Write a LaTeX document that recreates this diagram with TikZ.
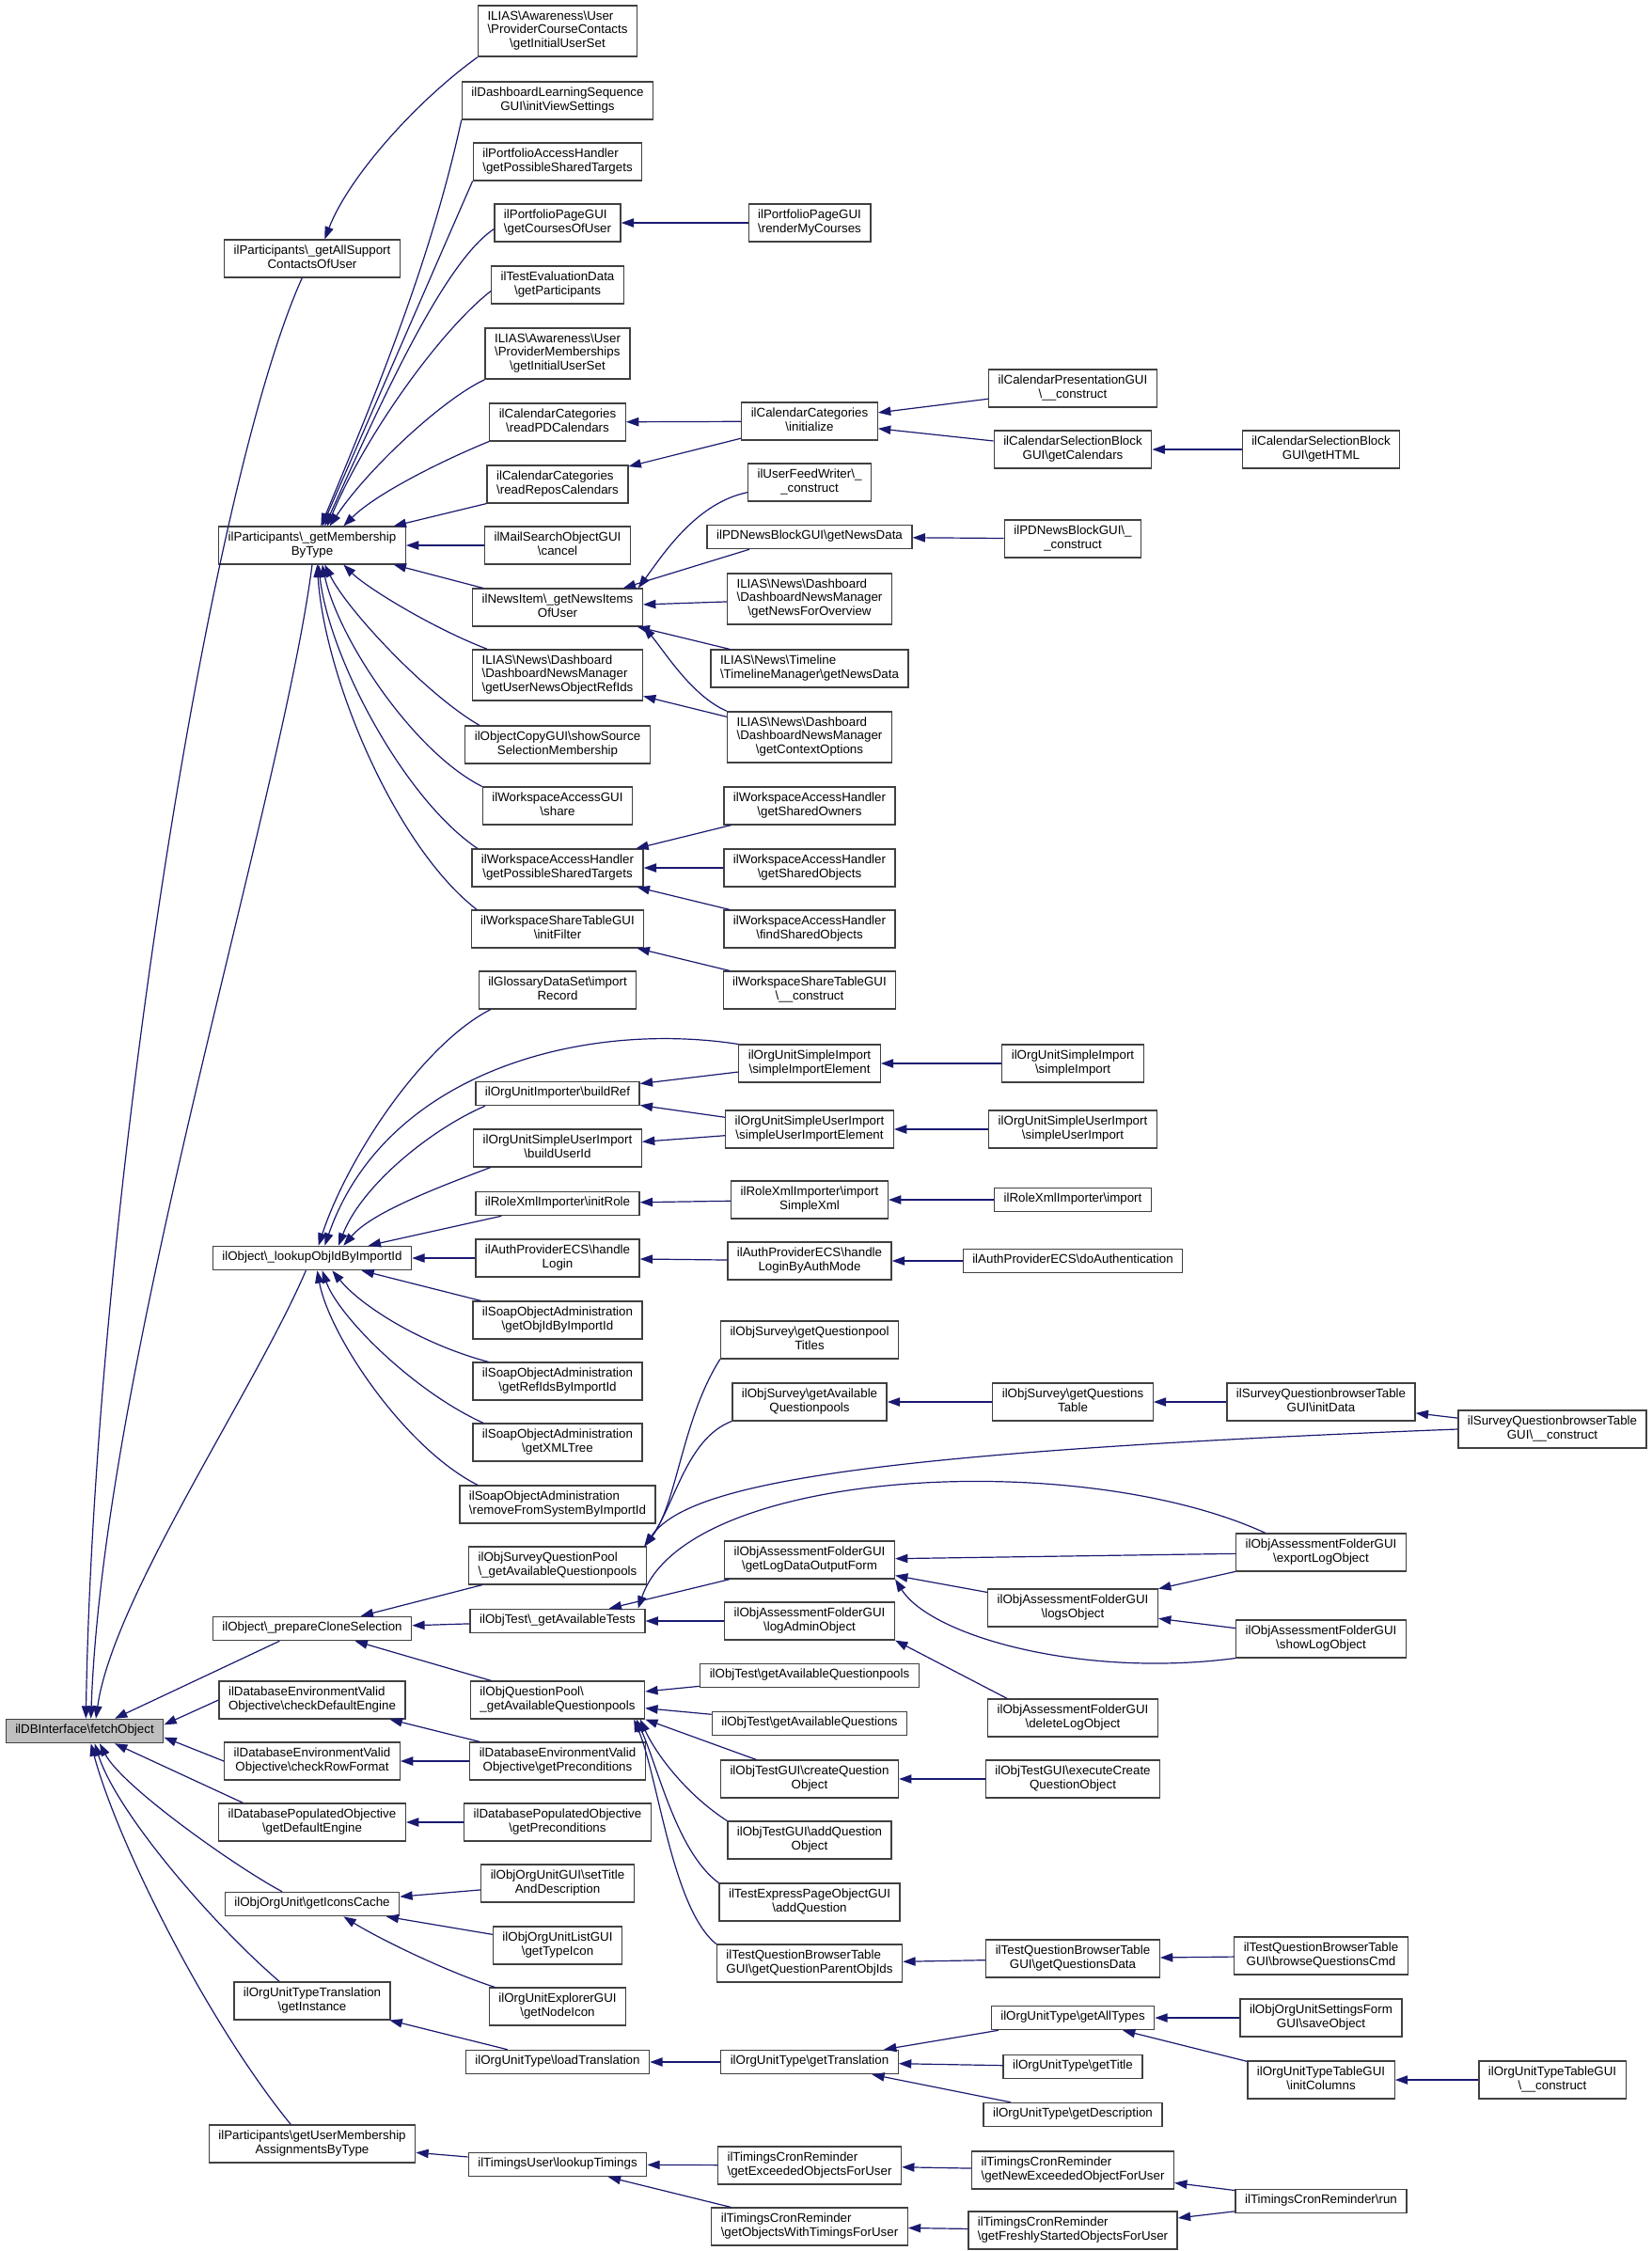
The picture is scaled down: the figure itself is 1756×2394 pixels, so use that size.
\documentclass[tikz,border=0pt]{standalone}
\usepackage{fontspec}
\setmainfont{Liberation Sans}
\usetikzlibrary{arrows.meta}
\definecolor{edgeblue}{HTML}{191970}
\definecolor{rootgray}{HTML}{BFBFBF}
\newcommand\bs{\textbackslash}
\newcommand\fnlines[2]{\begin{tabular}{@{}l@{}}#1\\\multicolumn{1}{@{}c@{}}{#2}\end{tabular}}
\newcommand\fnline[1]{\begin{tabular}{@{}c@{}}#1\end{tabular}}
\tikzset{
  fn/.style={draw=black!75, fill=white, line width=1pt, inner xsep=7.5pt, inner ysep=4pt,
    font=\fontsize{10}{10.9}\selectfont},
  rootfn/.style={fn, fill=rootgray},
  call/.style={draw=edgeblue, line width=0.9pt, -{Triangle[length=10pt,width=7pt]}}
}

\begin{document}
\begin{tikzpicture}[x=0.75pt,y=-0.75pt]
  \useasboundingbox (0,0) rectangle (1756,2394);

  \node[rootfn] (dbfetch) at (90,1841) {\fnline{ilDBInterface\bs fetchObject}};

  \node[fn] (allsupport) at (332,275) {\fnlines{ilParticipants\bs\_getAllSupport}{ContactsOfUser}};
  \node[fn] (membership) at (332,580) {\fnlines{ilParticipants\bs\_getMembership}{ByType}};
  \node[fn] (lookupid) at (332,1338) {\fnline{ilObject\bs\_lookupObjIdByImportId}};
  \node[fn] (prepclone) at (332,1732) {\fnline{ilObject\bs\_prepareCloneSelection}};
  \node[fn] (chkengine) at (332,1808) {\fnlines{ilDatabaseEnvironmentValid}{Objective\bs checkDefaultEngine}};
  \node[fn] (chkrow) at (332,1873) {\fnlines{ilDatabaseEnvironmentValid}{Objective\bs checkRowFormat}};
  \node[fn] (popengine) at (332,1938) {\fnlines{ilDatabasePopulatedObjective}{\bs getDefaultEngine}};
  \node[fn] (iconscache) at (332,2025) {\fnline{ilObjOrgUnit\bs getIconsCache}};
  \node[fn] (typetrans) at (332,2128) {\fnlines{ilOrgUnitTypeTranslation}{\bs getInstance}};
  \node[fn] (usermember) at (332,2280) {\fnlines{ilParticipants\bs getUserMembership}{AssignmentsByType}};

  \node[fn] (awcourse) at (593,33) {\fnlines{ILIAS\bs Awareness\bs User\\\bs ProviderCourseContacts}{\bs getInitialUserSet}};
  \node[fn] (dashlearn) at (593,107) {\fnlines{ilDashboardLearningSequence}{GUI\bs initViewSettings}};
  \node[fn] (portaccess) at (593,172) {\fnlines{ilPortfolioAccessHandler}{\bs getPossibleSharedTargets}};
  \node[fn] (portcourses) at (593,237) {\fnlines{ilPortfolioPageGUI}{\bs getCoursesOfUser}};
  \node[fn] (testeval) at (593,303) {\fnlines{ilTestEvaluationData}{\bs getParticipants}};
  \node[fn] (awmember) at (593,376) {\fnlines{ILIAS\bs Awareness\bs User\\\bs ProviderMemberships}{\bs getInitialUserSet}};
  \node[fn] (readpd) at (593,449) {\fnlines{ilCalendarCategories}{\bs readPDCalendars}};
  \node[fn] (readrepos) at (593,515) {\fnlines{ilCalendarCategories}{\bs readReposCalendars}};
  \node[fn] (mailcancel) at (593,580) {\fnlines{ilMailSearchObjectGUI}{\bs cancel}};
  \node[fn] (newsitems) at (593,646) {\fnlines{ilNewsItem\bs\_getNewsItems}{OfUser}};
  \node[fn] (newsrefids) at (593,718) {\fnlines{ILIAS\bs News\bs Dashboard\\\bs DashboardNewsManager}{\bs getUserNewsObjectRefIds}};
  \node[fn] (copygui) at (593,792) {\fnlines{ilObjectCopyGUI\bs showSource}{SelectionMembership}};
  \node[fn] (wsshare) at (593,857) {\fnlines{ilWorkspaceAccessGUI}{\bs share}};
  \node[fn] (wstargets) at (593,923) {\fnlines{ilWorkspaceAccessHandler}{\bs getPossibleSharedTargets}};
  \node[fn] (wsfilter) at (593,988) {\fnlines{ilWorkspaceShareTableGUI}{\bs initFilter}};
  \node[fn] (glossary) at (593,1053) {\fnlines{ilGlossaryDataSet\bs import}{Record}};
  \node[fn] (buildref) at (593,1163) {\fnline{ilOrgUnitImporter\bs buildRef}};
  \node[fn] (builduser) at (593,1221) {\fnlines{ilOrgUnitSimpleUserImport}{\bs buildUserId}};
  \node[fn] (initrole) at (593,1280) {\fnline{ilRoleXmlImporter\bs initRole}};
  \node[fn] (handlelogin) at (593,1338) {\fnlines{ilAuthProviderECS\bs handle}{Login}};
  \node[fn] (soapobjid) at (593,1404) {\fnlines{ilSoapObjectAdministration}{\bs getObjIdByImportId}};
  \node[fn] (soaprefids) at (593,1469) {\fnlines{ilSoapObjectAdministration}{\bs getRefIdsByImportId}};
  \node[fn] (soapxml) at (593,1534) {\fnlines{ilSoapObjectAdministration}{\bs getXMLTree}};
  \node[fn] (soapremove) at (593,1600) {\fnlines{ilSoapObjectAdministration}{\bs removeFromSystemByImportId}};
  \node[fn] (surveypools) at (593,1665) {\fnlines{ilObjSurveyQuestionPool}{\bs\_getAvailableQuestionpools}};
  \node[fn] (availtests) at (593,1724) {\fnline{ilObjTest\bs\_getAvailableTests}};
  \node[fn] (qpools) at (593,1808) {\fnlines{ilObjQuestionPool\bs}{\_getAvailableQuestionpools}};
  \node[fn] (envprecond) at (593,1873) {\fnlines{ilDatabaseEnvironmentValid}{Objective\bs getPreconditions}};
  \node[fn] (popprecond) at (593,1938) {\fnlines{ilDatabasePopulatedObjective}{\bs getPreconditions}};
  \node[fn] (orgsettitle) at (593,2003) {\fnlines{ilObjOrgUnitGUI\bs setTitle}{AndDescription}};
  \node[fn] (orgtypeicon) at (593,2069) {\fnlines{ilObjOrgUnitListGUI}{\bs getTypeIcon}};
  \node[fn] (orgnodeicon) at (593,2134) {\fnlines{ilOrgUnitExplorerGUI}{\bs getNodeIcon}};
  \node[fn] (loadtrans) at (593,2193) {\fnline{ilOrgUnitType\bs loadTranslation}};
  \node[fn] (lookuptim) at (593,2302) {\fnline{ilTimingsUser\bs lookupTimings}};

  \node[fn] (rendercourses) at (861,237) {\fnlines{ilPortfolioPageGUI}{\bs renderMyCourses}};
  \node[fn] (calinit) at (861,448) {\fnlines{ilCalendarCategories}{\bs initialize}};
  \node[fn] (feedwriter) at (861,513) {\fnlines{ilUserFeedWriter\bs\_}{\_construct}};
  \node[fn] (pdnewsdata) at (861,571) {\fnline{ilPDNewsBlockGUI\bs getNewsData}};
  \node[fn] (newsoverview) at (861,637) {\fnlines{ILIAS\bs News\bs Dashboard\\\bs DashboardNewsManager}{\bs getNewsForOverview}};
  \node[fn] (timeline) at (861,711) {\fnlines{ILIAS\bs News\bs Timeline}{\bs TimelineManager\bs getNewsData}};
  \node[fn] (newscontext) at (861,784) {\fnlines{ILIAS\bs News\bs Dashboard\\\bs DashboardNewsManager}{\bs getContextOptions}};
  \node[fn] (wsowners) at (861,857) {\fnlines{ilWorkspaceAccessHandler}{\bs getSharedOwners}};
  \node[fn] (wssharedobj) at (861,923) {\fnlines{ilWorkspaceAccessHandler}{\bs getSharedObjects}};
  \node[fn] (wsfind) at (861,988) {\fnlines{ilWorkspaceAccessHandler}{\bs findSharedObjects}};
  \node[fn] (wstableconstr) at (861,1053) {\fnlines{ilWorkspaceShareTableGUI}{\bs\_\_construct}};
  \node[fn] (simpleelem) at (861,1131) {\fnlines{ilOrgUnitSimpleImport}{\bs simpleImportElement}};
  \node[fn] (userelem) at (861,1201) {\fnlines{ilOrgUnitSimpleUserImport}{\bs simpleUserImportElement}};
  \node[fn] (importxml) at (861,1276) {\fnlines{ilRoleXmlImporter\bs import}{SimpleXml}};
  \node[fn] (loginbyauth) at (861,1341) {\fnlines{ilAuthProviderECS\bs handle}{LoginByAuthMode}};
  \node[fn] (pooltitles) at (861,1425) {\fnlines{ilObjSurvey\bs getQuestionpool}{Titles}};
  \node[fn] (surveyavail) at (861,1491) {\fnlines{ilObjSurvey\bs getAvailable}{Questionpools}};
  \node[fn] (logdataform) at (861,1659) {\fnlines{ilObjAssessmentFolderGUI}{\bs getLogDataOutputForm}};
  \node[fn] (logadmin) at (861,1724) {\fnlines{ilObjAssessmentFolderGUI}{\bs logAdminObject}};
  \node[fn] (testqpools) at (861,1782) {\fnline{ilObjTest\bs getAvailableQuestionpools}};
  \node[fn] (testquestions) at (861,1833) {\fnline{ilObjTest\bs getAvailableQuestions}};
  \node[fn] (createq) at (861,1892) {\fnlines{ilObjTestGUI\bs createQuestion}{Object}};
  \node[fn] (addq) at (861,1957) {\fnlines{ilObjTestGUI\bs addQuestion}{Object}};
  \node[fn] (expressadd) at (861,2023) {\fnlines{ilTestExpressPageObjectGUI}{\bs addQuestion}};
  \node[fn] (parentobjids) at (861,2088) {\fnlines{ilTestQuestionBrowserTable}{GUI\bs getQuestionParentObjIds}};
  \node[fn] (gettrans) at (861,2193) {\fnline{ilOrgUnitType\bs getTranslation}};
  \node[fn] (exceeded) at (861,2303) {\fnlines{ilTimingsCronReminder}{\bs getExceededObjectsForUser}};
  \node[fn] (withtimings) at (861,2368) {\fnlines{ilTimingsCronReminder}{\bs getObjectsWithTimingsForUser}};

  \node[fn] (calpresent) at (1141,413) {\fnlines{ilCalendarPresentationGUI}{\bs\_\_construct}};
  \node[fn] (calgetcal) at (1141,478) {\fnlines{ilCalendarSelectionBlock}{GUI\bs getCalendars}};
  \node[fn] (pdnewsconstr) at (1141,573) {\fnlines{ilPDNewsBlockGUI\bs\_}{\_construct}};
  \node[fn] (simpleimport) at (1141,1131) {\fnlines{ilOrgUnitSimpleImport}{\bs simpleImport}};
  \node[fn] (simpleuser) at (1141,1201) {\fnlines{ilOrgUnitSimpleUserImport}{\bs simpleUserImport}};
  \node[fn] (rolexmlimport) at (1141,1276) {\fnline{ilRoleXmlImporter\bs import}};
  \node[fn] (doauth) at (1141,1341) {\fnline{ilAuthProviderECS\bs doAuthentication}};
  \node[fn] (questionstable) at (1141,1491) {\fnlines{ilObjSurvey\bs getQuestions}{Table}};
  \node[fn] (logsobject) at (1141,1710) {\fnlines{ilObjAssessmentFolderGUI}{\bs logsObject}};
  \node[fn] (deletelog) at (1141,1827) {\fnlines{ilObjAssessmentFolderGUI}{\bs deleteLogObject}};
  \node[fn] (execcreate) at (1141,1892) {\fnlines{ilObjTestGUI\bs executeCreate}{QuestionObject}};
  \node[fn] (questionsdata) at (1141,2083) {\fnlines{ilTestQuestionBrowserTable}{GUI\bs getQuestionsData}};
  \node[fn] (alltypes) at (1141,2146) {\fnline{ilOrgUnitType\bs getAllTypes}};
  \node[fn] (gettitle) at (1141,2198) {\fnline{ilOrgUnitType\bs getTitle}};
  \node[fn] (getdesc) at (1141,2249) {\fnline{ilOrgUnitType\bs getDescription}};
  \node[fn] (newexceeded) at (1141,2308) {\fnlines{ilTimingsCronReminder}{\bs getNewExceededObjectForUser}};
  \node[fn] (freshly) at (1141,2372) {\fnlines{ilTimingsCronReminder}{\bs getFreshlyStartedObjectsForUser}};

  \node[fn] (gethtml) at (1405,478) {\fnlines{ilCalendarSelectionBlock}{GUI\bs getHTML}};
  \node[fn] (initdata) at (1405,1491) {\fnlines{ilSurveyQuestionbrowserTable}{GUI\bs initData}};
  \node[fn] (exportlog) at (1405,1651) {\fnlines{ilObjAssessmentFolderGUI}{\bs exportLogObject}};
  \node[fn] (showlog) at (1405,1743) {\fnlines{ilObjAssessmentFolderGUI}{\bs showLogObject}};
  \node[fn] (browsecmd) at (1405,2080) {\fnlines{ilTestQuestionBrowserTable}{GUI\bs browseQuestionsCmd}};
  \node[fn] (saveobject) at (1405,2146) {\fnlines{ilObjOrgUnitSettingsForm}{GUI\bs saveObject}};
  \node[fn] (initcolumns) at (1405,2212) {\fnlines{ilOrgUnitTypeTableGUI}{\bs initColumns}};
  \node[fn] (cronrun) at (1405,2341) {\fnline{ilTimingsCronReminder\bs run}};

  \node[fn] (surveyconstr) at (1651,1520) {\fnlines{ilSurveyQuestionbrowserTable}{GUI\bs\_\_construct}};
  \node[fn] (typetableconstr) at (1651,2212) {\fnlines{ilOrgUnitTypeTableGUI}{\bs\_\_construct}};

  \draw[call] ([xshift=-8pt]allsupport.south) .. controls (220,520) and (100,1300) .. ([xshift=1pt]dbfetch.north);
  \draw[call] (membership.south) .. controls (300,850) and (110,1450) .. ([xshift=5pt]dbfetch.north);
  \draw[call] ([xshift=-5pt]lookupid.south) .. controls (270,1480) and (120,1700) .. ([xshift=9pt]dbfetch.north);
  \draw[call] ([xshift=-26pt]prepclone.south) -- ([xshift=24pt]dbfetch.north);
  \draw[call] (chkengine.west) -- ([yshift=5pt]dbfetch.east);
  \draw[call] (chkrow.west) -- ([yshift=-5pt]dbfetch.east);
  \draw[call] ([xshift=-55pt]popengine.north) -- ([xshift=24pt]dbfetch.south);
  \draw[call] ([xshift=-24pt]iconscache.north) .. controls (250,1985) and (130,1900) .. ([xshift=12pt]dbfetch.south);
  \draw[call] ([xshift=-26pt]typetrans.north) .. controls (230,2050) and (125,1930) .. ([xshift=8pt]dbfetch.south);
  \draw[call] ([xshift=-17pt]usermember.north) .. controls (220,2150) and (125,1960) .. ([xshift=5pt]dbfetch.south);

  \draw[call] (awcourse.south west) .. controls (440,110) and (370,190) .. ([xshift=10pt]allsupport.north);
  \draw[call] (dashlearn.south west) .. controls (458,280) and (395,430) .. ([xshift=7pt]membership.north);
  \draw[call] (portaccess.south west) .. controls (460,290) and (395,440) .. ([xshift=8pt]membership.north);
  \draw[call] ([yshift=-5pt]portcourses.west) .. controls (470,280) and (400,440) .. ([xshift=10pt]membership.north);
  \draw[call] ([yshift=-5pt]testeval.west) .. controls (470,350) and (390,460) .. ([xshift=12pt]membership.north);
  \draw[call] (awmember.south west) .. controls (470,425) and (390,500) .. ([xshift=14pt]membership.north);
  \draw[call] (readpd.south west) .. controls (470,490) and (400,525) .. ([xshift=25pt]membership.north);
  \draw[call] (readrepos.south west) -- ([xshift=-10pt]membership.north east);
  \draw[call] (mailcancel) -- (membership);
  \draw[call] ([xshift=9pt]newsitems.north west) -- ([xshift=-10pt]membership.south east);
  \draw[call] ([xshift=12pt]newsrefids.north west) .. controls (460,668) and (390,625) .. ([xshift=25pt]membership.south);
  \draw[call] ([xshift=12pt]copygui.north west) .. controls (455,740) and (370,650) .. ([xshift=10pt]membership.south);
  \draw[call] (wsshare.north west) .. controls (440,800) and (360,680) .. ([xshift=8pt]membership.south);
  \draw[call] ([xshift=5pt]wstargets.north west) .. controls (430,850) and (350,700) .. ([xshift=5pt]membership.south);
  \draw[call] ([xshift=5pt]wsfilter.north west) .. controls (420,900) and (345,720) .. ([xshift=4pt]membership.south);

  \draw[call] (rendercourses) -- (portcourses);
  \draw[call] (calinit) -- (readpd);
  \draw[call] (calinit) -- (readrepos);
  \draw[call] (calpresent) -- (calinit);
  \draw[call] (calgetcal) -- (calinit);
  \draw[call] (gethtml) -- (calgetcal);
  \draw[call] ([yshift=-8pt]feedwriter.west) .. controls (740,535) and (705,590) .. ([xshift=-4pt]newsitems.north east);
  \draw[call] ([xshift=-48pt]pdnewsdata.south) -- ([xshift=-16pt]newsitems.north east);
  \draw[call] (pdnewsconstr) -- (pdnewsdata);
  \draw[call] (newsoverview) -- (newsitems);
  \draw[call] (timeline) -- (newsitems);
  \draw[call] (newscontext.north west) .. controls (735,740) and (705,690) .. (newsitems.south east);
  \draw[call] (newscontext) -- (newsrefids);
  \draw[call] (wsowners) -- (wstargets);
  \draw[call] (wssharedobj) -- (wstargets);
  \draw[call] (wsfind) -- (wstargets);
  \draw[call] (wstableconstr) -- (wsfilter);

  \draw[call] ([xshift=10pt]glossary.south west) .. controls (450,1110) and (370,1230) .. ([xshift=5pt]lookupid.north);
  \draw[call] (simpleelem.north west) .. controls (620,1085) and (410,1140) .. ([xshift=10pt]lookupid.north);
  \draw[call] ([xshift=8pt]buildref.south west) .. controls (460,1200) and (385,1260) .. ([xshift=21pt]lookupid.north);
  \draw[call] ([xshift=14pt]builduser.south west) .. controls (460,1265) and (395,1290) .. ([xshift=25pt]lookupid.north);
  \draw[call] (initrole) -- (lookupid);
  \draw[call] (handlelogin) -- (lookupid);
  \draw[call] (soapobjid) -- (lookupid);
  \draw[call] ([xshift=13pt]soaprefids.north west) .. controls (450,1430) and (385,1390) .. ([xshift=16pt]lookupid.south);
  \draw[call] ([xshift=9pt]soapxml.north west) .. controls (440,1480) and (360,1400) .. ([xshift=8pt]lookupid.south);
  \draw[call] ([xshift=15pt]soapremove.north west) .. controls (430,1540) and (350,1420) .. ([xshift=4pt]lookupid.south);
  \draw[call] (simpleelem) -- (buildref);
  \draw[call] (userelem) -- (buildref);
  \draw[call] (userelem) -- (builduser);
  \draw[call] (importxml) -- (initrole);
  \draw[call] (loginbyauth) -- (handlelogin);
  \draw[call] (simpleimport) -- (simpleelem);
  \draw[call] (simpleuser) -- (userelem);
  \draw[call] (rolexmlimport) -- (importxml);
  \draw[call] (doauth) -- (loginbyauth);

  \draw[call] (pooltitles.south west) .. controls (725,1510) and (720,1600) .. ([xshift=-2pt]surveypools.north east);
  \draw[call] (surveyavail.south west) .. controls (730,1530) and (718,1600) .. ([xshift=-2pt]surveypools.north east);
  \draw[call] (surveyconstr.west) .. controls (900,1545) and (730,1580) .. ([xshift=-2pt]surveypools.north east);
  \draw[call] (questionstable) -- (surveyavail);
  \draw[call] (initdata) -- (questionstable);
  \draw[call] (surveyconstr) -- (initdata);

  \draw[call] (logdataform) -- (availtests);
  \draw[call] ([xshift=24pt]exportlog.north west) .. controls (1150,1540) and (730,1560) .. ([xshift=-6pt]availtests.north east);
  \draw[call] (logadmin) -- (availtests);
  \draw[call] (exportlog) -- (logdataform);
  \draw[call] (logsobject) -- (logdataform);
  \draw[call] (showlog.south west) .. controls (1150,1785) and (990,1740) .. (logdataform.south east);
  \draw[call] (exportlog) -- (logsobject);
  \draw[call] (showlog) -- (logsobject);
  \draw[call] ([xshift=16pt]deletelog.north west) -- (logadmin.south east);

  \draw[call] (testqpools) -- (qpools);
  \draw[call] (testquestions) -- (qpools);
  \draw[call] (createq) -- (qpools.south east);
  \draw[call] (addq.north west) .. controls (725,1905) and (695,1860) .. ([xshift=-4pt]qpools.south east);
  \draw[call] (expressadd.north west) .. controls (720,1970) and (700,1880) .. ([xshift=-7pt]qpools.south east);
  \draw[call] (parentobjids.north west) .. controls (715,2030) and (700,1890) .. ([xshift=-9pt]qpools.south east);
  \draw[call] (execcreate) -- (createq);
  \draw[call] (questionsdata) -- (parentobjids);
  \draw[call] (browsecmd) -- (questionsdata);

  \draw[call] (surveypools) -- (prepclone);
  \draw[call] (availtests) -- (prepclone);
  \draw[call] (qpools) -- (prepclone);

  \draw[call] (envprecond) -- (chkengine);
  \draw[call] (envprecond) -- (chkrow);
  \draw[call] (popprecond) -- (popengine);

  \draw[call] (orgsettitle) -- (iconscache);
  \draw[call] (orgtypeicon) -- (iconscache);
  \draw[call] ([xshift=5pt]orgnodeicon.north west) .. controls (470,2095) and (400,2060) .. ([xshift=25pt]iconscache.south);
  \draw[call] (loadtrans) -- (typetrans);
  \draw[call] (gettrans) -- (loadtrans);
  \draw[call] (alltypes) -- (gettrans);
  \draw[call] (gettitle) -- (gettrans);
  \draw[call] (getdesc) -- (gettrans);
  \draw[call] (saveobject) -- (alltypes);
  \draw[call] (initcolumns) -- (alltypes);
  \draw[call] (typetableconstr) -- (initcolumns);

  \draw[call] (lookuptim) -- (usermember);
  \draw[call] (exceeded) -- (lookuptim);
  \draw[call] (withtimings) -- (lookuptim);
  \draw[call] (newexceeded) -- (exceeded);
  \draw[call] (freshly) -- (withtimings);
  \draw[call] (cronrun) -- (newexceeded);
  \draw[call] (cronrun) -- (freshly);
\end{tikzpicture}
\end{document}
